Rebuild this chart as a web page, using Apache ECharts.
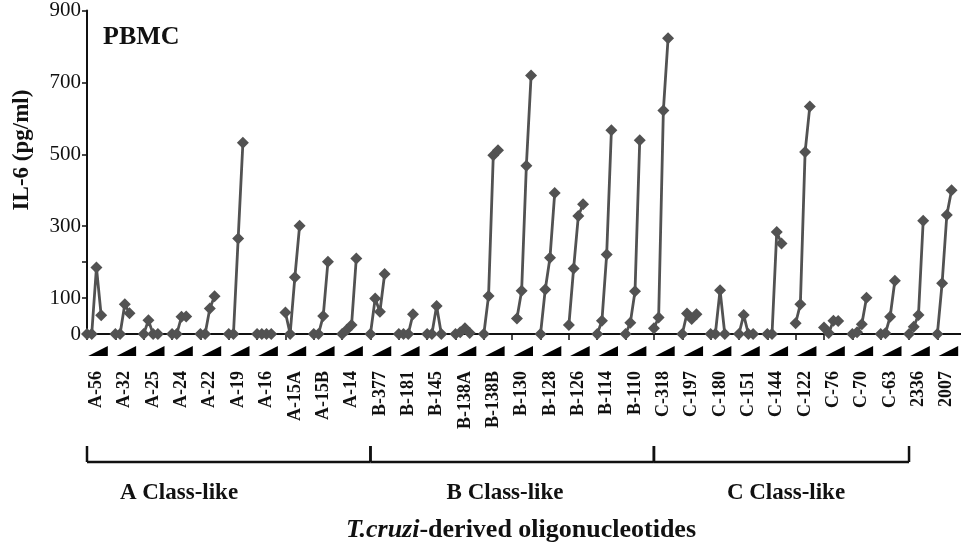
<!DOCTYPE html>
<html>
<head>
<meta charset="utf-8">
<script src="https://cdn.jsdelivr.net/npm/echarts@6/dist/echarts.min.js"></script>
<style>
  html, body { margin: 0; padding: 0; background: #fff; }
  #chart { width: 961px; height: 546px; }
</style>
</head>
<body>
<div id="chart"></div>
<script>
// oligonucleotide names, per class
const namesA = ['A-56', 'A-32', 'A-25', 'A-24', 'A-22', 'A-19', 'A-16', 'A-15A', 'A-15B', 'A-14']
const namesB = ['B-377', 'B-181', 'B-145', 'B-138A', 'B-138B', 'B-130', 'B-128', 'B-126', 'B-114', 'B-110']
const namesC = ['C-318', 'C-197', 'C-180', 'C-151', 'C-144', 'C-122', 'C-76', 'C-70', 'C-63']
const namesCtrl = ['2336', '2007']

// IL-6 (pg/ml) for the 4 increasing concentrations of each oligo
const valuesA = [
  [0, 0, 185, 52], [0, 0, 83, 58], [0, 38, 0, 0], [0, 0, 48, 49], [0, 0, 71, 105],
  [0, 0, 266, 532], [0, 0, 0, 0], [60, 0, 158, 301], [0, 0, 50, 201], [0, 12, 25, 210]
]
const valuesB = [
  [0, 99, 62, 167], [0, 0, 0, 55], [0, 0, 78, 0], [0, 5, 16, 3], [0, 106, 497, 511],
  [null, 43, 120, 468, 719], [0, 124, 212, 392], [25, 182, 328, 361], [0, 37, 221, 567], [0, 31, 119, 539]
]
const valuesC = [
  [16, 46, 622, 823], [0, 57, 42, 55], [0, 0, 122, 0], [0, 53, 0, 0], [0, 0, 284, 252],
  [30, 83, 506, 633], [18, 3, 37, 36], [0, 5, 27, 101], [0, 2, 48, 148]
]
const valuesCtrl = [[0, 20, 53, 315], [0, 141, 331, 400]]

// y axis ticks / labels
const yTicks = [0, 100, 200, 300, 500, 700, 900]
const yLabels = [0, 100, 300, 500, 700, 900]

// classes: first and last group index of each bracket
const classNames = ['A Class-like', 'B Class-like', 'C Class-like']
const classSpans = [[0, 10], [10, 20], [20, 29]]

const SLOTS = 6 // 4 concentrations + gap per oligo
const names = namesA.concat(namesB, namesC, namesCtrl)
const values = valuesA.concat(valuesB, valuesC, valuesCtrl)

const categories = []
const lineData = []
names.forEach((n, g) => {
  for (let k = 0; k < SLOTS; k++) {
    categories.push(n + '#' + k)
    const v = values[g][k]
    lineData.push(v === undefined ? null : v)
  }
})

const serif = 'Liberation Serif'
const ink = '#111'
const grey = '#525252'

const myChart = echarts.init(document.getElementById('chart'))

const option = {
  animation: false,
  backgroundColor: '#fff',
  grid: { left: 87, top: 10, height: 324, width: 877 },
  xAxis: {
    type: 'category',
    data: categories,
    boundaryGap: false,
    axisLine: { lineStyle: { color: ink, width: 2 } },
    axisTick: { interval: SLOTS - 1, length: 6, lineStyle: { color: ink, width: 1.5 } },
    axisLabel: {
      interval: (i) => i % SLOTS === 2,
      rotate: 90,
      margin: 37,
      formatter: (v) => v.split('#')[0],
      fontFamily: serif,
      fontWeight: 'bold',
      fontSize: 18,
      color: ink
    },
    splitLine: { show: false }
  },
  yAxis: {
    type: 'value',
    min: 0,
    max: 900,
    interval: 100,
    axisLine: { show: true, lineStyle: { color: ink, width: 2 } },
    axisTick: { show: true, customValues: yTicks, length: 5, lineStyle: { color: ink, width: 1.5 } },
    axisLabel: { customValues: yLabels, margin: 6, fontFamily: serif, fontSize: 21, color: ink },
    splitLine: { show: false }
  },
  series: [
    {
      type: 'line',
      data: lineData,
      connectNulls: false,
      showAllSymbol: true,
      symbol: 'diamond',
      symbolSize: 12,
      itemStyle: { color: grey },
      lineStyle: { color: grey, width: 2.8 },
      z: 3
    },
    {
      // concentration wedges under each oligo
      type: 'custom',
      data: names.map((n, g) => [g * SLOTS, 0]),
      renderItem (params, api) {
        const p = api.coord([api.value(0), 0])
        const w = api.size([1, 0])[0]
        return {
          type: 'polygon',
          shape: {
            points: [
              [p[0] + 0.25 * w, p[1] + 22],
              [p[0] + 4.4 * w, p[1] + 12],
              [p[0] + 4.4 * w, p[1] + 22]
            ]
          },
          style: { fill: '#000' }
        }
      },
      silent: true
    },
    {
      // class brackets
      type: 'custom',
      data: classSpans.map((s) => [s[0] * SLOTS, s[1] * SLOTS]),
      renderItem (params, api) {
        const a = api.coord([api.value(0), 0])
        const b = api.coord([api.value(1), 0])
        const y0 = a[1] + 128
        const y1 = a[1] + 112
        const st = { stroke: ink, lineWidth: 2.5 }
        return {
          type: 'group',
          children: [
            { type: 'line', shape: { x1: a[0], y1: y0, x2: b[0], y2: y0 }, style: st },
            { type: 'line', shape: { x1: a[0], y1: y0, x2: a[0], y2: y1 }, style: st },
            { type: 'line', shape: { x1: b[0], y1: y0, x2: b[0], y2: y1 }, style: st }
          ]
        }
      },
      silent: true
    }
  ],
  graphic: [
    {
      type: 'text', left: 103, top: 24,
      style: { text: 'PBMC', font: 'bold 26px "Liberation Serif"', fill: ink }
    },
    {
      type: 'text', x: 22, y: 150, rotation: Math.PI / 2,
      style: { text: 'IL-6 (pg/ml)', font: 'bold 23px "Liberation Serif"', fill: ink, align: 'center', verticalAlign: 'middle' }
    },
    {
      type: 'text', x: 179, y: 493,
      style: { text: classNames[0], font: 'bold 23px "Liberation Serif"', fill: ink, align: 'center', verticalAlign: 'middle' }
    },
    {
      type: 'text', x: 505, y: 493,
      style: { text: classNames[1], font: 'bold 23px "Liberation Serif"', fill: ink, align: 'center', verticalAlign: 'middle' }
    },
    {
      type: 'text', x: 786, y: 493,
      style: { text: classNames[2], font: 'bold 23px "Liberation Serif"', fill: ink, align: 'center', verticalAlign: 'middle' }
    },
    {
      type: 'text', x: 521, y: 530,
      style: {
        text: '{i|T.cruzi}{b|-derived oligonucleotides}',
        align: 'center',
        verticalAlign: 'middle',
        rich: {
          i: { fontFamily: serif, fontStyle: 'italic', fontWeight: 'bold', fontSize: 26, fill: ink },
          b: { fontFamily: serif, fontWeight: 'bold', fontSize: 26, fill: ink }
        }
      }
    }
  ]
}

myChart.setOption(option)
</script>
</body>
</html>
